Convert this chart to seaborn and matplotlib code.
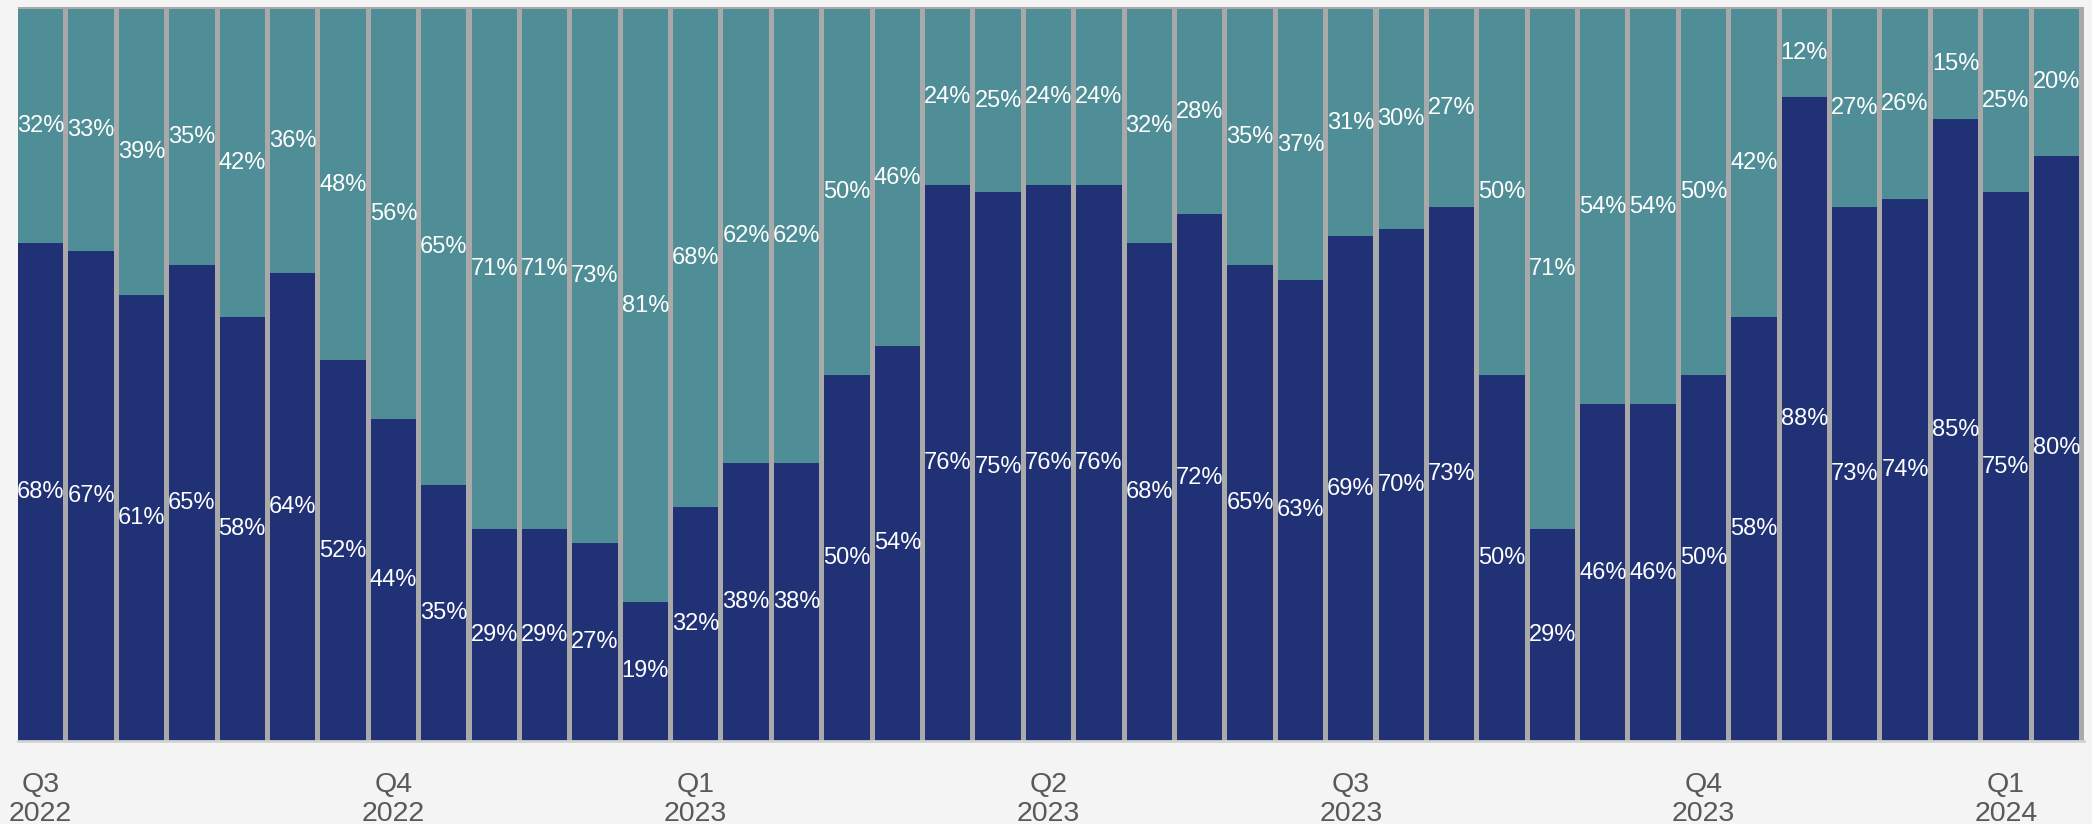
import matplotlib
matplotlib.use("Agg")
import matplotlib.pyplot as plt
import seaborn as sns
import pandas as pd

bottom_pct = [68, 67, 61, 65, 58, 64, 52, 44, 35, 29, 29, 27, 19, 32, 38, 38, 50, 54,
              76, 75, 76, 76, 68, 72, 65, 63, 69, 70, 73, 50, 29, 46, 46, 50, 58, 88,
              73, 74, 85, 75, 80]
top_pct = [32, 33, 39, 35, 42, 36, 48, 56, 65, 71, 71, 73, 81, 68, 62, 62, 50, 46,
           24, 25, 24, 24, 32, 28, 35, 37, 31, 30, 27, 50, 71, 54, 54, 50, 42, 12,
           27, 26, 15, 25, 20]
periods = [f"P{i+1}" for i in range(len(bottom_pct))]
tick_idx = [0, 7, 13, 20, 26, 33, 39]
tick_labels = ["Q3\n2022", "Q4\n2022", "Q1\n2023", "Q2\n2023", "Q3\n2023", "Q4\n2023", "Q1\n2024"]

NAVY = "#203175"
TEAL = "#4f8e96"
BG = "#f4f4f4"
BAR_W = 0.90

df = pd.DataFrame({"period": periods, "bottom": bottom_pct, "top": top_pct})
df["total"] = df["bottom"] + df["top"]

sns.set_theme(style="white")
plt.rcParams["font.family"] = ["Liberation Sans", "DejaVu Sans"]

fig = plt.figure(figsize=(20.92, 8.24), dpi=100, facecolor=BG)
ax = fig.add_axes([18 / 2092, 1 - 741 / 824, (2084 - 18) / 2092, (741 - 7) / 824])
ax.set_facecolor("#a9a9a9")

sns.barplot(data=df, x="period", y="total", color=TEAL, width=BAR_W, saturation=1,
            ax=ax, linewidth=0)
sns.barplot(data=df, x="period", y="bottom", color=NAVY, width=BAR_W, saturation=1,
            ax=ax, linewidth=0)

n = len(periods)
ax.set_xlim(-BAR_W / 2, n - BAR_W / 2)
ax.set_ylim(0, 100.3)

for i in range(n):
    b = bottom_pct[i]
    t = top_pct[i]
    ax.text(i, b / 2, f"{b}%", ha="center", va="center", color="white", fontsize=17)
    ax.text(i, b + t / 2, f"{t}%", ha="center", va="center", color="white", fontsize=17)

ax.set_xticks(tick_idx)
ax.set_xticklabels(tick_labels, fontsize=20.5, color="#595959", linespacing=1.15)
ax.tick_params(axis="x", length=0, pad=22)
ax.set_yticks([])
ax.set_xlabel("")
ax.set_ylabel("")
for s in ["top", "left", "right"]:
    ax.spines[s].set_visible(False)
ax.spines["bottom"].set_color("#d3d3d3")
ax.spines["bottom"].set_linewidth(2)

fig.savefig("out.png", dpi=100, facecolor=BG)
